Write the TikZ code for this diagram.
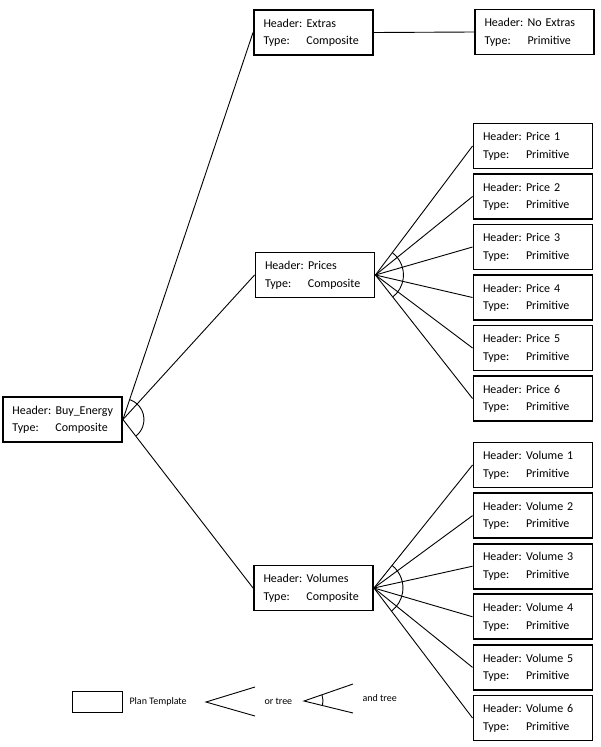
\documentclass[tikz,border=0pt]{standalone}
\usepackage{fontspec}
\setmainfont{Carlito}
\newcommand{\plantext}[2]{\begin{tabular}{@{}p{43pt}@{}l@{}}Header:&#1\\Type:&#2\end{tabular}}

\begin{document}
\begin{tikzpicture}[x=1pt,y=-1pt,
    plan/.style={draw, line width=1.9pt, minimum height=45pt, text width=100pt, inner xsep=9.5pt, inner ysep=4pt, align=left, font=\fontsize{12}{17.5}\selectfont},
    link/.style={line width=0.9pt},
    legend/.style={font=\fontsize{10}{12}\selectfont}]
    \useasboundingbox (0,0) rectangle (600,747);
    % root and composites
    \node[plan] (buy) at (62.5,419.5) {\plantext{Buy\_Energy}{Composite}};
    \node[plan] (extras) at (313.5,32.5) {\plantext{Extras}{Composite}};
    \node[plan] (noextras) at (534.5,32) {\plantext{No Extras}{Primitive}};
    \node[plan] (prices) at (315,275) {\plantext{Prices}{Composite}};
    \node[plan] (volumes) at (313.5,588) {\plantext{Volumes}{Composite}};
    % prices
    \node[plan] (price1) at (533,146) {\plantext{Price 1}{Primitive}};
    \node[plan] (price2) at (533,196.5) {\plantext{Price 2}{Primitive}};
    \node[plan] (price3) at (533,247) {\plantext{Price 3}{Primitive}};
    \node[plan] (price4) at (533,297.5) {\plantext{Price 4}{Primitive}};
    \node[plan] (price5) at (533,348) {\plantext{Price 5}{Primitive}};
    \node[plan] (price6) at (533,398.5) {\plantext{Price 6}{Primitive}};
    % volumes
    \node[plan] (volume1) at (533,465) {\plantext{Volume 1}{Primitive}};
    \node[plan] (volume2) at (533,515.6) {\plantext{Volume 2}{Primitive}};
    \node[plan] (volume3) at (533,566.2) {\plantext{Volume 3}{Primitive}};
    \node[plan] (volume4) at (533,616.8) {\plantext{Volume 4}{Primitive}};
    \node[plan] (volume5) at (533,667.4) {\plantext{Volume 5}{Primitive}};
    \node[plan] (volume6) at (533,718) {\plantext{Volume 6}{Primitive}};
    % links
    \draw[link] (buy.east) -- (extras.west);
    \draw[link] (buy.east) -- (prices.west);
    \draw[link] (buy.east) -- (volumes.west);
    \draw[link] (extras.east) -- (noextras.west);
    \draw[link] (prices.east) -- (price1.west);
    \draw[link] (prices.east) -- (price2.west);
    \draw[link] (prices.east) -- (price3.west);
    \draw[link] (prices.east) -- (price4.west);
    \draw[link] (prices.east) -- (price5.west);
    \draw[link] (prices.east) -- (price6.west);
    \draw[link] (volumes.east) -- (volume1.west);
    \draw[link] (volumes.east) -- (volume2.west);
    \draw[link] (volumes.east) -- (volume3.west);
    \draw[link] (volumes.east) -- (volume4.west);
    \draw[link] (volumes.east) -- (volume5.west);
    \draw[link] (volumes.east) -- (volume6.west);
    % and arcs
    \draw[link] (buy.east) ++(71:21pt) arc[start angle=71, end angle=-52, radius=21pt];
    \draw[link] (prices.east) ++(53:28pt) arc[start angle=53, end angle=-52, radius=28pt];
    \draw[link] (volumes.east) ++(51:29pt) arc[start angle=51, end angle=-52, radius=29pt];
    % legend
    \node[draw, line width=1pt, minimum width=50pt, minimum height=21pt, inner sep=0pt] (legplan) at (97,701.5) {};
    \node[legend, anchor=west] (legplantext) at (126,702) {Plan Template};
    \coordinate (orv) at (206,702);
    \coordinate (ora) at (255,687);
    \coordinate (orb) at (255,716);
    \draw[link] (ora) -- (orv) -- (orb);
    \node[legend, anchor=west] (ortext) at (261,701) {or tree};
    \coordinate (andv) at (304,701);
    \coordinate (anda) at (353,684);
    \coordinate (andb) at (353,713);
    \draw[link] (anda) -- (andv) -- (andb);
    \draw[link] (andv) ++(19:19pt) arc[start angle=19, end angle=-14, radius=19pt];
    \node[legend, anchor=west] (andtext) at (359,698) {and tree};
\end{tikzpicture}
\end{document}
